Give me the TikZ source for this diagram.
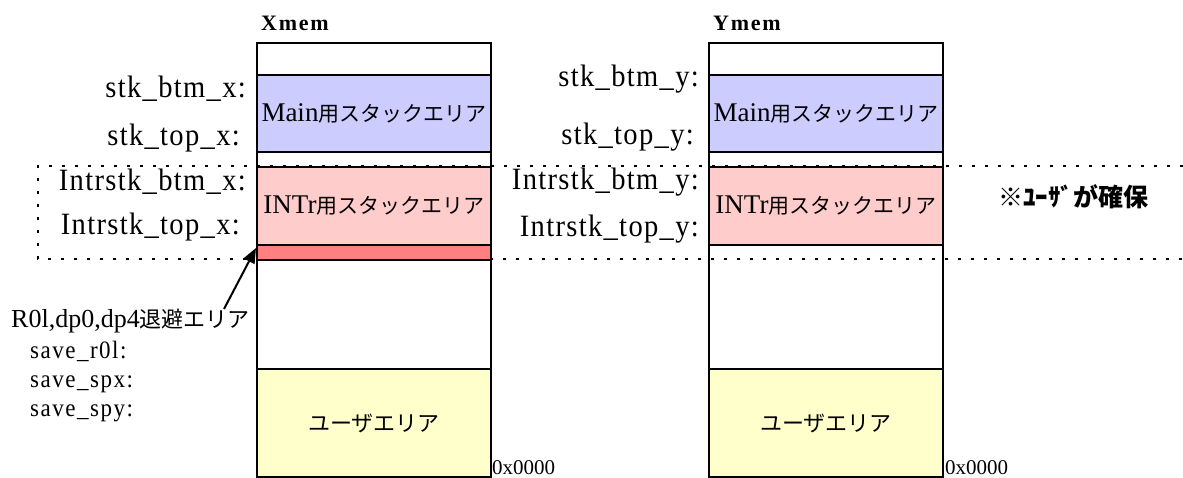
\documentclass[tikz,border=0pt]{standalone}
\usepackage{fontspec}
\setmainfont{Liberation Serif}
\newfontfamily\lsfont[LetterSpace=4.3,FakeStretch=0.92]{Liberation Serif}
\newfontfamily\lsfontb[LetterSpace=6,FakeStretch=0.92]{Liberation Serif}
\newfontfamily\lshdr[LetterSpace=8]{Liberation Serif}
\newfontfamily\jp{Noto Sans CJK JP}
\usetikzlibrary{arrows.meta}
\definecolor{mainblue}{HTML}{CCCCFF}
\definecolor{intpink}{HTML}{FFCCCC}
\definecolor{savered}{HTML}{FF8080}
\definecolor{useryel}{HTML}{FFFFCC}
\tikzset{
  seg/.style={draw=black, line width=2pt, minimum width=234pt, inner sep=0pt, anchor=north west},
  lbl/.style={inner sep=0pt, anchor=base east, font=\lsfont\fontsize{31}{34}\selectfont},
  sml/.style={inner sep=0pt, anchor=base west, font=\lsfontb\fontsize{25}{28}\selectfont},
  hdr/.style={inner sep=0pt, anchor=base west, font=\lshdr\bfseries\fontsize{22}{26}\selectfont},
  addr/.style={inner sep=0pt, anchor=base west, font=\fontsize{21}{25}\selectfont},
  dotline/.style={line width=2pt, dash pattern=on 3pt off 10pt},
}
\newcommand{\jtxt}[1]{{\jp\fontsize{21}{25}\selectfont #1}}
\begin{document}
\begin{tikzpicture}[x=1pt,y=-1pt]
\useasboundingbox (0,0) rectangle (1183,478);
% dotted region
\draw[dotline] (1183,166) -- (38,166) -- (38,259) -- (1183,259);
% Xmem column
\node[seg, minimum height=32pt] (x1) at (256,42) {};
\node[seg, fill=mainblue, minimum height=77pt] (x2) at (256,74) {\fontsize{27}{30}\selectfont Main\jtxt{用スタックエリア}};
\node[seg, minimum height=15pt] (x3) at (256,151) {};
\node[seg, fill=intpink, minimum height=78pt] (x4) at (256,166) {\fontsize{27}{30}\selectfont INTr\jtxt{用スタックエリア}};
\node[seg, fill=savered, minimum height=15pt] (xred) at (256,244) {};
\node[seg, minimum height=109pt] (x6) at (256,259) {};
\node[seg, fill=useryel, minimum height=108pt] (x7) at (256,368) {\jp\fontsize{22}{26}\selectfont ユーザエリア};
% Ymem column
\node[seg, minimum height=32pt] (y1) at (708,42) {};
\node[seg, fill=mainblue, minimum height=77pt] (y2) at (708,74) {\fontsize{27}{30}\selectfont Main\jtxt{用スタックエリア}};
\node[seg, minimum height=15pt] (y3) at (708,151) {};
\node[seg, fill=intpink, minimum height=78pt] (y4) at (708,166) {\fontsize{27}{30}\selectfont INTr\jtxt{用スタックエリア}};
\node[seg, minimum height=124pt] (y5) at (708,244) {};
\node[seg, fill=useryel, minimum height=108pt] (y7) at (708,368) {\jp\fontsize{22}{26}\selectfont ユーザエリア};
% headers
\node[hdr] (xh) at (261,31) {Xmem};
\node[hdr] (yh) at (713,31) {Ymem};
% X labels
\node[lbl] (lx1) at (246,98) {stk\_btm\_x:};
\node[lbl] (lx2) at (240,146) {stk\_top\_x:};
\node[lbl] (lx3) at (246,191) {Intrstk\_btm\_x:};
\node[lbl] (lx4) at (240,235) {Intrstk\_top\_x:};
% Y labels
\node[lbl] (ly1) at (699,87) {stk\_btm\_y:};
\node[lbl] (ly2) at (694,145) {stk\_top\_y:};
\node[lbl] (ly3) at (699,190) {Intrstk\_btm\_y:};
\node[lbl] (ly4) at (699,237) {Intrstk\_top\_y:};
% save area labels
\node[inner sep=0pt, anchor=base west, font=\fontsize{26}{30}\selectfont] (sv) at (11,327) {R0l,dp0,dp4{\jp\fontsize{22}{26}\selectfont 退避エリア}};
\node[sml] (s1) at (30,358) {save\_r0l:};
\node[sml] (s2) at (30,387) {save\_spx:};
\node[sml] (s3) at (30,416) {save\_spy:};
% addresses
\node[addr] (a1) at (492,474) {0x0000};
\node[addr] (a2) at (945,474) {0x0000};
% note
\node[inner sep=0pt, font=\jp\bfseries\fontsize{25}{29}\selectfont] (note) at (1073,197) {※ﾕｰｻﾞが確保};
% arrow
\coordinate (arrS) at (224,309);
\draw[line width=2pt, -{Triangle[length=15pt,width=12pt]}] (arrS) -- ([yshift=-4pt]xred.north west);
\end{tikzpicture}
\end{document}
